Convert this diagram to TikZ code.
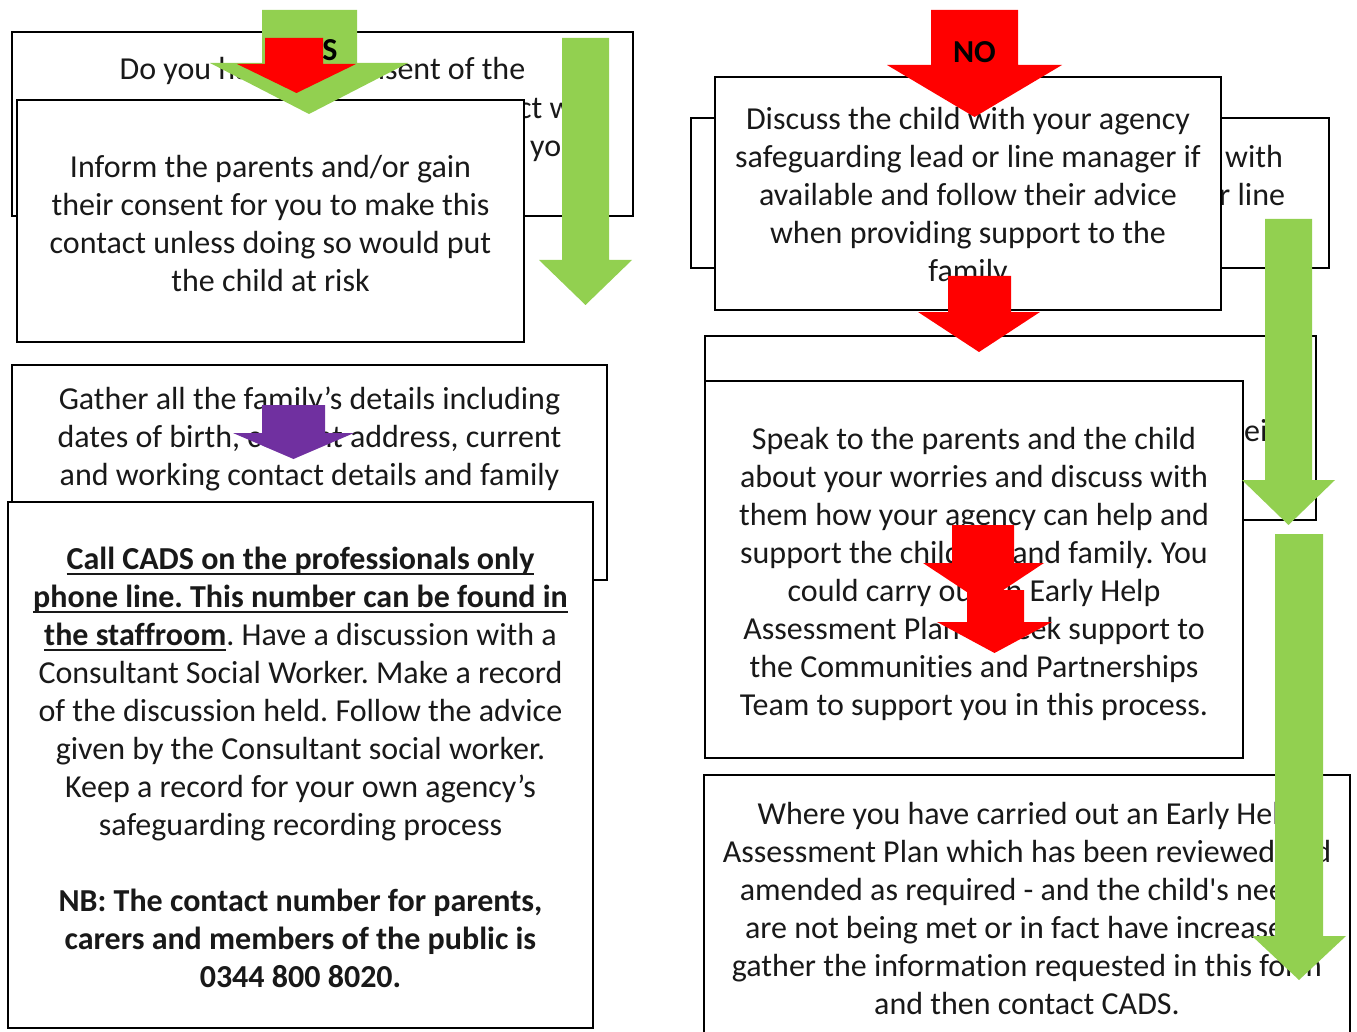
\documentclass[tikz,border=0pt]{standalone}
\usepackage{fontspec}
\newfontfamily\carl{Carlito}[Ligatures=NoCommon]
\definecolor{agreen}{HTML}{92D050}
\definecolor{ared}{HTML}{FF0000}
\definecolor{apurple}{HTML}{7030A0}
\newcommand\barrow[8]{\fill[#1] (#2,#4) -- (#3,#4) -- (#3,#5) -- (#7,#5) -- ({(#6+#7)/2},#8) -- (#6,#5) -- (#2,#5) -- cycle;}
\newcommand\myul[1]{\setbox0=\hbox{#1}\rlap{\rule[-6pt]{\wd0}{2.2pt}}\box0}
\tikzset{
  pbox/.style={draw=black, line width=2.6pt, fill=white, inner sep=0pt},
  txt/.style={align=center, inner sep=0pt, anchor=base, text=black!90, font=\carl\frenchspacing\fontsize{32}{38}\selectfont},
  frag/.style={inner sep=0pt, anchor=base west, text=black!90, font=\carl\fontsize{32}{38}\selectfont},
  lbl/.style={inner sep=0pt, anchor=base, text=black, font=\carl\bfseries\fontsize{32}{38}\selectfont},
}
\begin{document}
\begin{tikzpicture}[x=1pt,y=-1pt]
\useasboundingbox (0,0) rectangle (1357,1032);
% ---------- left column ----------
\node[pbox, minimum width=621pt, minimum height=184pt] (boxA) at (322.5,124) {};
\node[txt] (tA) at (322.5,80) {Do you have the consent of the};
\node[frag] (tA2) at (518,119) {ct with};
\node[frag] (tA3) at (530,157) {you};
\node[pbox, minimum width=507pt, minimum height=242pt] (boxB) at (270.5,221) {};
\node[txt] (tB) at (270.5,291) {Inform the parents and/or gain\\their consent for you to make this\\contact unless doing so would put\\the child at risk};
\barrow{agreen}{262}{357}{10}{63}{210}{408}{114}
\node[lbl] (yes) at (314,61) {YES};
\barrow{ared}{265}{323}{38}{64}{237}{356}{93}
\barrow{agreen}{562}{609}{38}{260}{539}{632}{305}
\node[pbox, minimum width=595pt, minimum height=215pt] (boxC) at (309.5,472.5) {};
\node[txt] (tC) at (309.5,485) {Gather all the family’s details including\\dates of birth, current address, current\\and working contact details and family};
\barrow{apurple}{262}{325}{405}{433}{233}{354}{459}
\node[pbox, minimum width=585pt, minimum height=526pt] (boxD) at (300.5,765) {};
\node[txt] (tD) at (300.5,987) {\myul{\textbf{Call CADS on the professionals only}}\\
\myul{\textbf{phone line. This number can be found in}}\\
\myul{\textbf{the staffroom}}. Have a discussion with a\\
Consultant Social Worker. Make a record\\
of the discussion held. Follow the advice\\
given by the Consultant social worker.\\
Keep a record for your own agency’s\\
safeguarding recording process\\[38pt]
\textbf{NB: The contact number for parents,}\\
\textbf{carers and members of the public is}\\
\textbf{0344 800 8020.}};
% ---------- right column ----------
\node[pbox, minimum width=638pt, minimum height=150pt] (boxE) at (1010,193) {};
\node[frag] (tE1) at (1225,168) {with};
\node[frag] (tE2) at (1219,206) {r line};
\node[pbox, minimum width=506pt, minimum height=233pt] (boxF) at (968,193.5) {};
\node[txt] (tF) at (968,282) {Discuss the child with your agency\\safeguarding lead or line manager if\\available and follow their advice\\when providing support to the\\family};
\barrow{ared}{931}{1018}{10}{65}{887}{1062}{117}
\node[lbl] (no) at (974.5,63) {NO};
\node[pbox, minimum width=611pt, minimum height=184pt] (boxG) at (1010.5,428) {};
\node[frag] (tG) at (1244,441) {ei};
\node[pbox, minimum width=538pt, minimum height=377pt] (boxH) at (974,569.5) {};
\node[txt] (tH) at (974,715) {Speak to the parents and the child\\about your worries and discuss with\\them how your agency can help and\\support the children and family. You\\could carry out an Early Help\\Assessment Plan or seek support to\\the Communities and Partnerships\\Team to support you in this process.};
\barrow{ared}{948}{1011}{276}{312}{918}{1040}{352}
\barrow{ared}{952}{1014}{525}{563}{923}{1044}{603}
\barrow{ared}{967}{1024}{590}{622}{937}{1052}{653}
\barrow{agreen}{1265}{1312}{219}{480}{1242}{1335}{525}
\node[pbox, minimum width=646pt, minimum height=270pt] (boxI) at (1027,910) {};
\node[txt] (tI) at (1027,1014) {Where you have carried out an Early Help\\Assessment Plan which has been reviewed and\\amended as required - and the child's needs\\are not being met or in fact have increased,\\gather the information requested in this form\\and then contact CADS.};
\barrow{agreen}{1275}{1323}{534}{936}{1252}{1346}{980}
\end{tikzpicture}
\end{document}
